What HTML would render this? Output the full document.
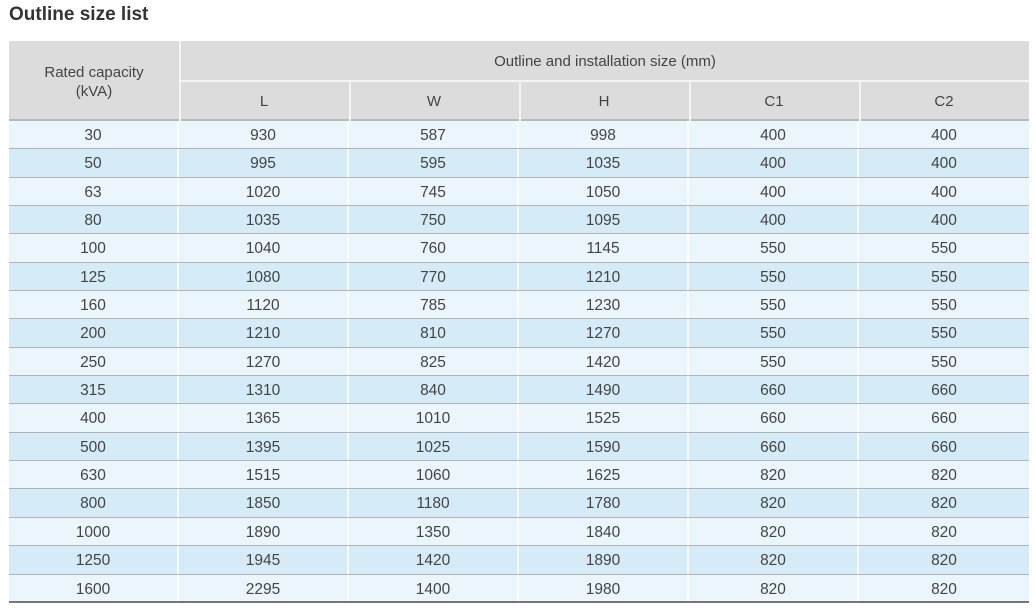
<!DOCTYPE html>
<html><head><meta charset="utf-8"><style>
body{margin:0;width:1036px;height:613px;background:#fff;font-family:"Liberation Sans",sans-serif;color:#444;position:relative;overflow:hidden}
h1{position:absolute;left:9px;top:4px;margin:0;font-size:19px;font-weight:bold;color:#333}
.t{position:absolute;left:9px;top:41px;width:1020px}
.hd{position:relative;height:80px;background:#dcdcdc;border-bottom:2px solid #b8b8b8;box-sizing:border-box}
.hd div{position:absolute;text-align:center;font-size:15px}
.r{display:flex;height:28.35px;border-bottom:1px solid #b3b3b3;box-sizing:border-box}
.r div{width:170px;text-align:center;font-size:15.5px;line-height:29px;border-right:2px solid rgba(255,255,255,.8);box-sizing:border-box}
.r div:last-child{border-right:none}
.a{background:#eaf5fc}.b{background:#d5ebf8}
.last{border-bottom:2px solid #777}
</style></head><body>
<h1>Outline size list</h1>
<div class="t">
<div class="hd">
<div style="left:0;top:22px;width:170px;line-height:19px">Rated capacity<br>(kVA)</div>
<div style="left:170px;top:0;width:2px;height:80px;background:#f4f4f4"></div>
<div style="left:172px;top:39px;width:848px;height:2px;background:#f4f4f4"></div>
<div style="left:172px;top:12px;width:848px">Outline and installation size (mm)</div>
<div style="left:340px;top:41px;width:2px;height:39px;background:#f4f4f4"></div>
<div style="left:510px;top:41px;width:2px;height:39px;background:#f4f4f4"></div>
<div style="left:680px;top:41px;width:2px;height:39px;background:#f4f4f4"></div>
<div style="left:850px;top:41px;width:2px;height:39px;background:#f4f4f4"></div>
<div style="left:170px;top:52px;width:170px">L</div>
<div style="left:340px;top:52px;width:170px">W</div>
<div style="left:510px;top:52px;width:170px">H</div>
<div style="left:680px;top:52px;width:170px">C1</div>
<div style="left:850px;top:52px;width:170px">C2</div>
</div>
<div class="r a"><div>30</div><div>930</div><div>587</div><div>998</div><div>400</div><div>400</div></div>
<div class="r b"><div>50</div><div>995</div><div>595</div><div>1035</div><div>400</div><div>400</div></div>
<div class="r a"><div>63</div><div>1020</div><div>745</div><div>1050</div><div>400</div><div>400</div></div>
<div class="r b"><div>80</div><div>1035</div><div>750</div><div>1095</div><div>400</div><div>400</div></div>
<div class="r a"><div>100</div><div>1040</div><div>760</div><div>1145</div><div>550</div><div>550</div></div>
<div class="r b"><div>125</div><div>1080</div><div>770</div><div>1210</div><div>550</div><div>550</div></div>
<div class="r a"><div>160</div><div>1120</div><div>785</div><div>1230</div><div>550</div><div>550</div></div>
<div class="r b"><div>200</div><div>1210</div><div>810</div><div>1270</div><div>550</div><div>550</div></div>
<div class="r a"><div>250</div><div>1270</div><div>825</div><div>1420</div><div>550</div><div>550</div></div>
<div class="r b"><div>315</div><div>1310</div><div>840</div><div>1490</div><div>660</div><div>660</div></div>
<div class="r a"><div>400</div><div>1365</div><div>1010</div><div>1525</div><div>660</div><div>660</div></div>
<div class="r b"><div>500</div><div>1395</div><div>1025</div><div>1590</div><div>660</div><div>660</div></div>
<div class="r a"><div>630</div><div>1515</div><div>1060</div><div>1625</div><div>820</div><div>820</div></div>
<div class="r b"><div>800</div><div>1850</div><div>1180</div><div>1780</div><div>820</div><div>820</div></div>
<div class="r a"><div>1000</div><div>1890</div><div>1350</div><div>1840</div><div>820</div><div>820</div></div>
<div class="r b"><div>1250</div><div>1945</div><div>1420</div><div>1890</div><div>820</div><div>820</div></div>
<div class="r a last"><div>1600</div><div>2295</div><div>1400</div><div>1980</div><div>820</div><div>820</div></div>
</div>
</body></html>
